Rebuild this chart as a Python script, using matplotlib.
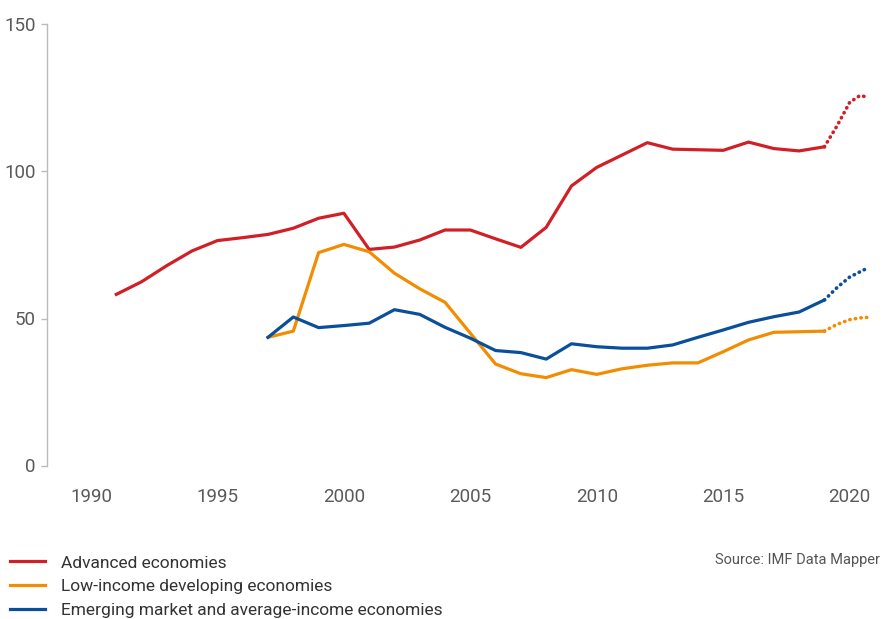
import matplotlib
matplotlib.use("Agg")
import matplotlib.pyplot as plt
from matplotlib.lines import Line2D

plt.rcParams['font.family'] = ['Roboto', 'DejaVu Sans']

years_adv = list(range(1991, 2020))
advanced = [58.2, 62.5, 68.0, 73.0, 76.5, 77.5, 78.6, 80.7, 84.1, 85.8,
            73.5, 74.3, 76.7, 80.1, 80.1, 77.1, 74.2, 81.0, 95.1, 101.4,
            105.6, 109.8, 107.6, 107.4, 107.2, 110.0, 107.8, 107.0, 108.4]

years_dev = list(range(1997, 2020))
low_income = [43.6, 45.7, 72.4, 75.2, 72.7, 65.4, 60.1, 55.5, 45.0, 34.5,
              31.2, 29.9, 32.6, 31.0, 32.9, 34.1, 34.9, 34.9, 38.7, 42.7,
              45.3, 45.5, 45.7]
emerging = [43.6, 50.5, 46.9, 47.6, 48.4, 53.0, 51.4, 47.0, 43.3, 39.1,
            38.4, 36.2, 41.4, 40.4, 39.9, 39.9, 41.0, 43.6, 46.1, 48.7,
            50.6, 52.2, 56.3]

# projections (dotted)
proj_years_adv = [2019, 2019.5, 2020, 2020.4, 2020.75]
proj_adv = [108.4, 115.5, 123.5, 125.8, 125.3]
proj_years_low = [2019, 2019.5, 2020, 2020.4, 2020.75]
proj_low = [45.7, 48.0, 49.6, 50.2, 50.4]
proj_years_em = [2019, 2019.5, 2020, 2020.6]
proj_em = [56.3, 60.5, 64.1, 66.7]

labels = ["Advanced economies", "Low-income developing economies",
          "Emerging market and average-income economies"]
colors = ["#D01F27", "#F28C00", "#0A4F9C"]
xticks = [1990, 1995, 2000, 2005, 2010, 2015, 2020]
yticks = [0, 50, 100, 150]

fig = plt.figure(figsize=(8.83, 6.19), dpi=100)
ax = fig.add_axes([47/883, 1-465.5/619, (880-47)/883, (465.5-24.5)/619])

lw = 2.3
dot = (0, (0.1, 1.45))
ax.plot(years_adv, advanced, color=colors[0], lw=lw, solid_joinstyle='round')
ax.plot(years_dev, low_income, color=colors[1], lw=lw, solid_joinstyle='round')
ax.plot(years_dev, emerging, color=colors[2], lw=lw, solid_joinstyle='round')
ax.plot(proj_years_adv, proj_adv, color=colors[0], lw=2.6, linestyle=dot, dash_capstyle='round')
ax.plot(proj_years_low, proj_low, color=colors[1], lw=2.6, linestyle=dot, dash_capstyle='round')
ax.plot(proj_years_em, proj_em, color=colors[2], lw=2.6, linestyle=dot, dash_capstyle='round')

ax.set_xlim(1988.26, 2021.2)
ax.set_ylim(0, 150)
ax.set_xticks(xticks)
ax.set_yticks(yticks)
for s in ['top', 'right', 'bottom']:
    ax.spines[s].set_visible(False)
ax.spines['left'].set_color('#BBBBBB')
ax.spines['left'].set_linewidth(1.0)
ax.tick_params(axis='y', colors='#BBBBBB', length=4, width=1, labelcolor='#5A5A5A',
               labelsize=13.5, pad=4)
ax.tick_params(axis='x', length=0, labelcolor='#5A5A5A', labelsize=13.5, pad=16)

# legend
handles = [Line2D([0], [0], color=c, lw=2.3) for c in colors]
fig.legend(handles, labels, loc='upper left', bbox_to_anchor=(0.0, 1-545/619),
           frameon=False, prop={'family': ['Roboto', 'DejaVu Sans'], 'size': 12.5},
           labelcolor='#333333', handlelength=2.0,
           handletextpad=0.9, labelspacing=0.5, borderaxespad=0.2)

fig.text(880/883, 1-560/619, "Source: IMF Data Mapper", ha='right', va='center',
         fontsize=10.5, color='#555555')

fig.savefig("out.png", dpi=100)
